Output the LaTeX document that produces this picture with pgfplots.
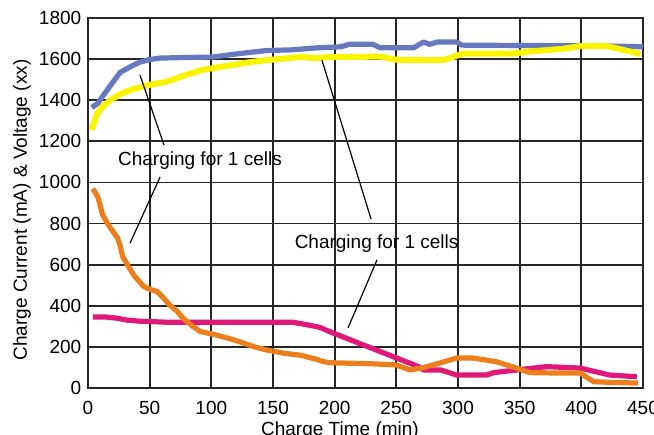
\documentclass[border=0pt]{standalone}
\usepackage{fontspec}
\setmainfont{Liberation Sans}
\usepackage{pgfplots}
\pgfplotsset{compat=1.18}
\definecolor{cblue}{RGB}{102,120,190}
\definecolor{cyellow}{RGB}{250,244,0}
\definecolor{corange}{RGB}{236,126,28}
\definecolor{cmag}{RGB}{224,24,122}
\begin{document}
\fontsize{9.5}{11}\selectfont
\begin{tikzpicture}
\begin{axis}[
 scale only axis, width=277.5pt, height=185pt,
 xmin=0, xmax=450, ymin=0, ymax=1800,
 xtick={0,50,...,450}, ytick={0,200,...,1800},
 grid=major, major grid style={black!85, line width=0.9pt},
 axis line style={black!85, line width=0.9pt},
 major tick length=0pt,
 tick label style={font=\fontsize{9.5}{11}\selectfont},
 /pgf/number format/assume math mode=true,
 /pgf/number format/1000 sep={},
 xticklabel style={yshift=-3pt},
 xlabel={Charge Time (min)},
 xlabel style={at={(axis description cs:0.454,0)}, anchor=base, yshift=-23.8pt},
 ylabel={Charge Current (mA) \& Voltage (xx)},
 ylabel style={at={(axis description cs:-0.119,0.481)}, anchor=center},
]
\addplot[cblue, line width=2.6pt, line join=round] coordinates {
(3,1365) (8,1385) (12,1420) (18,1470) (26,1535) (35,1565) (42,1585) (50,1598) (58,1605) (80,1608) (101,1610) (120,1625) (145,1642) (165,1645) (186,1655) (205,1660) (212,1672) (231,1672) (237,1655) (264,1655) (272,1683) (277,1672) (283,1683) (299,1683) (303,1668) (360,1666) (400,1665) (430,1663) (450,1660)
};
\addplot[cyellow, line width=3pt, line join=round] coordinates {
(3,1255) (7,1330) (12,1370) (18,1400) (28,1435) (37,1455) (50,1475) (64,1490) (78,1520) (91,1545) (105,1560) (118,1572) (131,1585) (145,1595) (160,1603) (172,1610) (185,1605) (196,1610) (237,1612) (250,1597) (285,1595) (290,1598) (304,1627) (345,1627) (358,1637) (385,1650) (399,1663) (421,1663) (448,1625)
};
\addplot[cmag, line width=2.6pt, line join=round] coordinates {
(4,345) (15,345) (23,340) (32,330) (42,325) (64,320) (100,320) (140,320) (166,320) (180,305) (188,295) (196,274) (268,104) (272,88) (286,88) (299,63) (323,63) (329,75) (348,88) (372,104) (399,97) (423,63) (445,55)
};
\addplot[corange, line width=2.6pt, line join=round] coordinates {
(4,970) (8,930) (12,840) (18,780) (24,730) (26,695) (28,640) (32,600) (37,550) (45,495) (50,480) (56,470) (61,440) (66,405) (72,375) (77,340) (85,300) (91,275) (104,258) (115,240) (123,225) (135,200) (145,185) (160,168) (172,160) (185,140) (191,128) (196,123) (230,118) (250,112) (261,88) (272,99) (285,121) (299,146) (312,146) (331,128) (348,96) (358,75) (380,73) (399,73) (410,31) (425,27) (446,24)
};
\draw[line width=0.6pt] (axis cs:42.2,1522) -- (axis cs:61.6,1182);
\draw[line width=0.6pt] (axis cs:58.4,1026) -- (axis cs:34.1,705);
\draw[line width=0.6pt] (axis cs:189.7,1595) -- (axis cs:229.5,822);
\draw[line width=0.6pt] (axis cs:234.3,623) -- (axis cs:210.8,292);
\node[inner sep=0pt] at (axis cs:90.8,1104) {Charging for 1 cells};
\node[inner sep=0pt] at (axis cs:234,705) {Charging for 1 cells};
\end{axis}
\pgfresetboundingbox
\useasboundingbox ([shift={(-44pt,-23pt)}]current axis.south west) rectangle ([shift={(5.5pt,9pt)}]current axis.north east);
\end{tikzpicture}
\end{document}
